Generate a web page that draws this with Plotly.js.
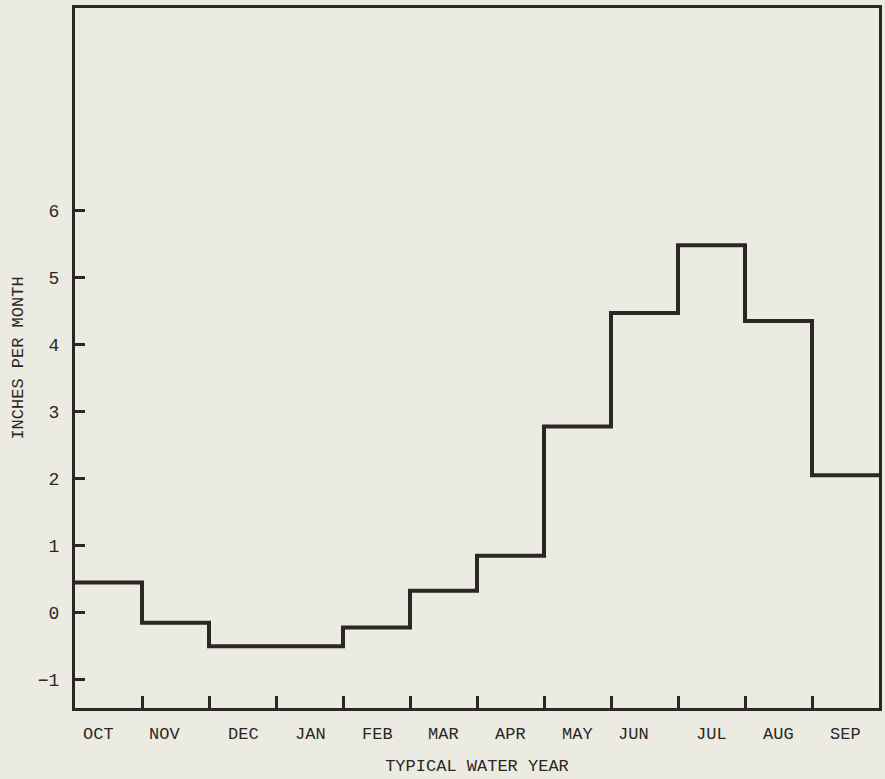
<!DOCTYPE html>
<html>
<head>
<meta charset="utf-8">
<script src="https://cdn.plot.ly/plotly-3.0.1.min.js"></script>
<style>html,body{margin:0;padding:0;background:#ecebe2;}</style>
</head>
<body>
<div id="chart" style="width:885px;height:779px;"></div>
<script>
// Months of the typical water year
const months = ["OCT","NOV","DEC","JAN","FEB","MAR","APR","MAY","JUN","JUL","AUG","SEP"];
// Inches per month (step value for each month)
const inchesPerMonth = [0.45, -0.15, -0.5, -0.5, -0.22, 0.33, 0.85, 2.78, 4.47, 5.48, 4.35, 2.05];
// Where each month label sits along the month axis (month index units)
const labelPos = [0.35, 1.34, 2.52, 3.52, 4.52, 5.5, 6.5, 7.5, 8.34, 9.5, 10.5, 11.5];
// Month boundary tick marks
const monthTicks = [1,2,3,4,5,6,7,8,9,10,11];
const yTicks = [-1,0,1,2,3,4,5,6];

const ink = "#2b2727";
const font = "Liberation Mono, Courier New, monospace";

const xs = months.map((m,i)=>i).concat([months.length]);
const ys = inchesPerMonth.concat([inchesPerMonth[inchesPerMonth.length-1]]);

const trace = {
  x: xs, y: ys, type: "scatter", mode: "lines",
  line: {shape: "hv", color: ink, width: 4},
  hoverinfo: "skip", showlegend: false
};

const annotations = months.map((m,i)=>({
  text: m, x: labelPos[i], xref: "x", y: -0.022, yref: "paper",
  yanchor: "top", xanchor: "center", showarrow: false,
  font: {family: font, size: 17, color: ink}
}));

const layout = {
  width: 885, height: 779,
  margin: {l: 75, r: 6, t: 8, b: 71},
  paper_bgcolor: "#ecebe2", plot_bgcolor: "#ecebe2",
  showlegend: false,
  xaxis: {
    range: [0, 12], tickmode: "array", tickvals: monthTicks,
    ticks: "inside", ticklen: 12, tickwidth: 3, tickcolor: ink,
    showticklabels: false, showgrid: false, zeroline: false,
    showline: true, linewidth: 3, linecolor: ink, mirror: true,
    title: {text: "TYPICAL WATER YEAR", font: {family: font, size: 17, color: ink}, standoff: 50}
  },
  yaxis: {
    range: [-1.42, 9.02], tickmode: "array", tickvals: yTicks,
    ticks: "inside", ticklen: 10, tickwidth: 3, tickcolor: ink,
    ticklabelstandoff: 9,
    tickfont: {family: font, size: 18, color: ink},
    showgrid: false, zeroline: false,
    showline: true, linewidth: 3, linecolor: ink, mirror: true,
    title: {text: "INCHES PER MONTH", font: {family: font, size: 17, color: ink}, standoff: 10}
  },
  annotations: annotations
};

Plotly.newPlot("chart", [trace], layout, {displayModeBar: false, staticPlot: true});
</script>
</body>
</html>
